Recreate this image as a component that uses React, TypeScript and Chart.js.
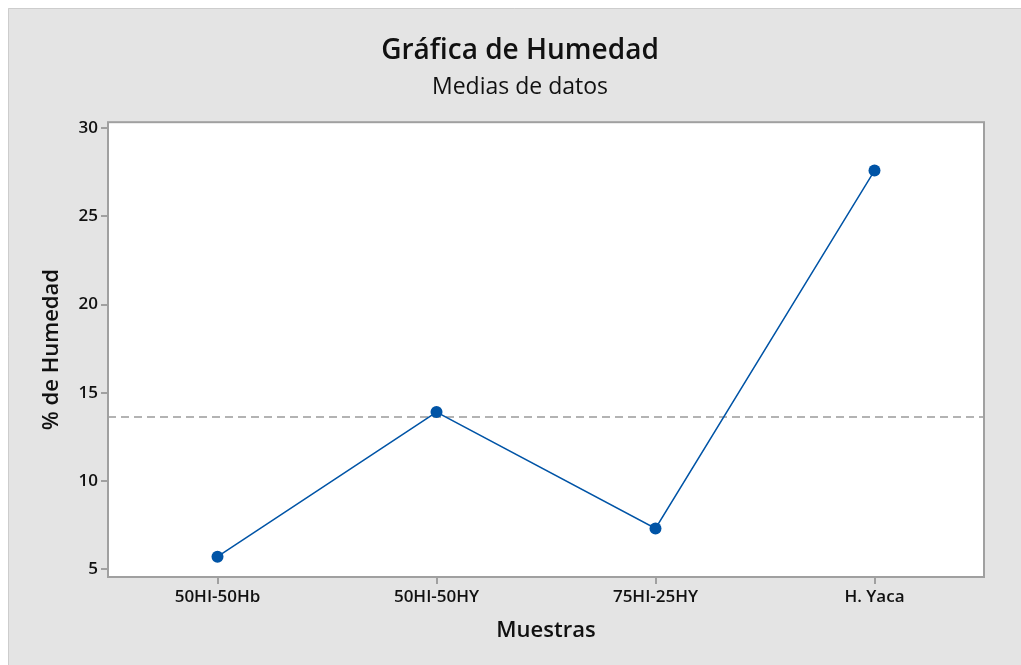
import React, { useEffect, useRef } from "react";
import { Chart, registerables } from "chart.js";

Chart.register(...registerables);

const categories = ["50HI-50Hb", "50HI-50HY", "75HI-25HY", "H. Yaca"];
const humedad = [5.7, 13.9, 7.3, 27.6];
const yTicks = [5, 10, 15, 20, 25, 30];
const titleText = "Gráfica de Humedad";
const subtitleText = "Medias de datos";
const xTitle = "Muestras";
const yTitle = "% de Humedad";

const FONT = "'Open Sans', 'Noto Sans', 'DejaVu Sans', sans-serif";
const W = 1013;
const H = 657;
const LINE_BLUE = "#0054a6";
const TEXT = "#111111";
const mean = humedad.reduce((a, b) => a + b, 0) / humedad.length;

const framePlugin = {
  id: "minitabFrame",
  beforeDraw(chart: any) {
    const { ctx, chartArea: a } = chart;
    ctx.save();
    ctx.fillStyle = "#e4e4e4";
    ctx.fillRect(0, 0, chart.width, chart.height);
    ctx.strokeStyle = "#cdcdcd";
    ctx.lineWidth = 1;
    ctx.beginPath();
    ctx.moveTo(0.5, chart.height);
    ctx.lineTo(0.5, 0.5);
    ctx.lineTo(chart.width, 0.5);
    ctx.stroke();
    ctx.fillStyle = "#ffffff";
    ctx.fillRect(a.left, a.top, a.right - a.left, a.bottom - a.top);
    ctx.restore();
  },
  beforeDatasetsDraw(chart: any) {
    const { ctx, chartArea: a } = chart;
    const y = chart.scales.y.getPixelForValue(mean);
    ctx.save();
    ctx.setLineDash([8, 5]);
    ctx.strokeStyle = "#9a9a9a";
    ctx.lineWidth = 1.5;
    ctx.beginPath();
    ctx.moveTo(a.left, y);
    ctx.lineTo(a.right, y);
    ctx.stroke();
    ctx.setLineDash([]);
    ctx.strokeStyle = "#a0a0a0";
    ctx.lineWidth = 2;
    ctx.strokeRect(a.left, a.top, a.right - a.left, a.bottom - a.top);
    ctx.restore();
  },
};

export default function App() {
  const ref = useRef<HTMLCanvasElement>(null);
  useEffect(() => {
    document.documentElement.style.overflow = "hidden";
    document.body.style.overflow = "hidden";
    const chart = new Chart(ref.current as HTMLCanvasElement, {
      type: "line",
      data: {
        labels: categories,
        datasets: [
          {
            data: humedad,
            yAxisID: "y",
            borderColor: LINE_BLUE,
            backgroundColor: LINE_BLUE,
            borderWidth: 1.5,
            pointRadius: 6,
            pointBorderWidth: 0,
            pointBackgroundColor: LINE_BLUE,
            tension: 0,
          },
        ],
      },
      options: {
        responsive: false,
        animation: false,
        devicePixelRatio: 1,
        layout: { padding: { left: 11, right: 0, top: 0, bottom: 0 } },
        plugins: {
          legend: { display: false },
          tooltip: { enabled: false },
          title: {
            display: true,
            text: titleText,
            color: TEXT,
            font: { family: FONT, size: 28, weight: "600" },
            padding: { top: 26, bottom: 0 },
          },
          subtitle: {
            display: true,
            text: subtitleText,
            color: TEXT,
            font: { family: FONT, size: 23, weight: "normal" },
            padding: { top: 6, bottom: 21 },
          },
        },
        scales: {
          x: {
            type: "category",
            offset: true,
            border: { display: false },
            grid: {
              drawOnChartArea: false,
              drawTicks: true,
              tickLength: 7,
              color: "#a0a0a0",
              lineWidth: 2,
              offset: false,
            },
            ticks: {
              color: TEXT,
              padding: 3,
              maxRotation: 0,
              font: { family: FONT, size: 17, weight: "600" },
            },
            title: {
              display: true,
              text: xTitle,
              color: TEXT,
              font: { family: FONT, size: 22, weight: "600" },
              padding: { top: 0, bottom: 21 },
            },
            afterFit: (s: any) => {
              s.height = 88;
            },
          },
          y: {
            type: "linear",
            position: "left",
            min: 4.55,
            max: 30.34,
            border: { display: false },
            grid: {
              drawOnChartArea: false,
              drawTicks: true,
              tickLength: 7,
              color: "#a0a0a0",
              lineWidth: 2,
            },
            afterBuildTicks: (s: any) => {
              s.ticks = yTicks.map((v) => ({ value: v }));
            },
            ticks: {
              color: TEXT,
              padding: 3,
              font: { family: FONT, size: 17, weight: "600" },
            },
            title: {
              display: true,
              text: yTitle,
              color: TEXT,
              font: { family: FONT, size: 22, weight: "600" },
              padding: { top: 20, bottom: 0 },
            },
            afterFit: (s: any) => {
              s.width = 89;
            },
          },
          yRightSpace: {
            type: "linear",
            position: "right",
            display: true,
            border: { display: false },
            grid: { display: false, drawTicks: false },
            ticks: { display: false },
            afterFit: (s: any) => {
              s.width = 37;
            },
          },
        },
      },
      plugins: [framePlugin],
    } as any);
    return () => chart.destroy();
  }, []);
  return (
    <canvas
      ref={ref}
      width={W}
      height={H}
      style={{ position: "fixed", left: 8, top: 8, display: "block", width: W, height: H }}
    />
  );
}
